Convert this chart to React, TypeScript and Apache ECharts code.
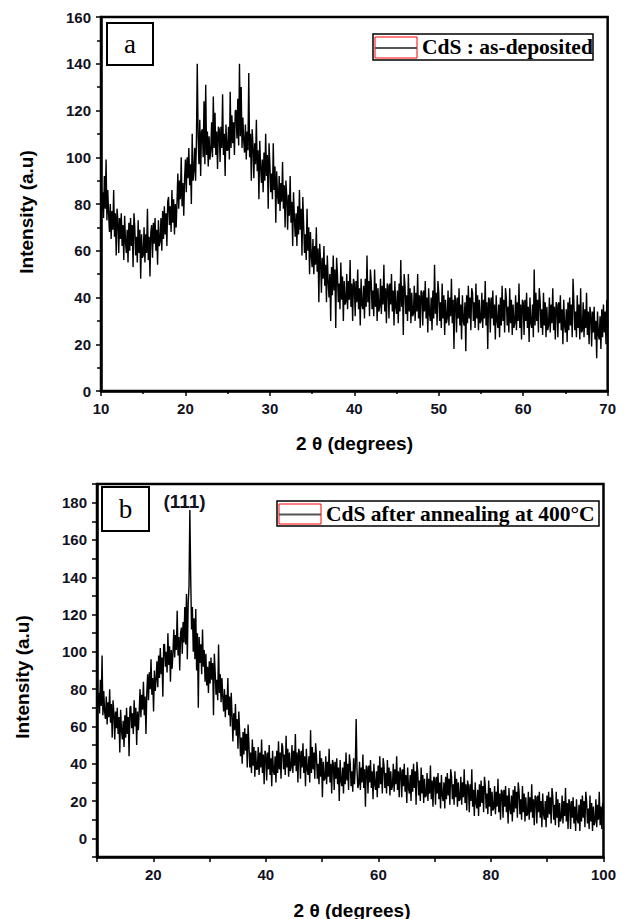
import React, { useEffect, useRef } from "react";
import * as echarts from "echarts";

// ---- Panel (a): CdS as-deposited, 2θ from 10° in steps of 0.1° (one row per degree) ----
const startA = 10;
const stepA = 0.1;
const intensityA = [
  89, 77, 85, 74, 92, 78, 99, 73, 86, 76,
  68, 80, 65, 77, 69, 86, 66, 76, 58, 78,
  73, 59, 74, 65, 76, 62, 71, 56, 75, 64,
  59, 69, 55, 72, 60, 74, 62, 71, 53, 76,
  70, 58, 66, 55, 73, 59, 69, 48, 67, 57,
  58, 70, 55, 67, 59, 78, 56, 66, 49, 68,
  71, 57, 72, 63, 74, 60, 69, 54, 73, 62,
  64, 74, 60, 77, 65, 79, 67, 76, 62, 81,
  83, 71, 79, 68, 86, 72, 82, 67, 80, 70,
  81, 93, 78, 90, 82, 100, 79, 89, 75, 91,
  99, 85, 100, 91, 104, 88, 97, 80, 110, 90,
  94, 104, 90, 107, 140, 109, 97, 116, 92, 111,
  112, 100, 124, 97, 131, 101, 111, 96, 109, 99,
  103, 115, 100, 126, 104, 119, 101, 111, 95, 113,
  112, 98, 113, 104, 127, 101, 110, 92, 114, 103,
  103, 113, 99, 128, 104, 118, 106, 115, 101, 120,
  120, 108, 125, 105, 140, 109, 130, 104, 117, 107,
  102, 114, 99, 111, 103, 136, 100, 110, 90, 112,
  105, 91, 106, 97, 116, 94, 103, 82, 107, 96,
  89, 99, 85, 102, 90, 110, 92, 101, 78, 106,
  97, 85, 93, 82, 106, 86, 96, 72, 94, 84,
  80, 92, 77, 89, 81, 98, 78, 88, 70, 90,
  83, 69, 84, 75, 92, 72, 81, 62, 85, 74,
  66, 76, 62, 79, 67, 86, 69, 78, 58, 83,
  71, 59, 67, 56, 78, 60, 70, 50, 68, 58,
  53, 65, 50, 62, 54, 70, 51, 61, 38, 63,
  56, 42, 57, 48, 62, 45, 54, 38, 58, 47,
  40, 50, 30, 53, 41, 58, 43, 52, 27, 57,
  50, 38, 46, 35, 55, 39, 49, 30, 47, 37,
  38, 50, 35, 47, 39, 56, 36, 46, 30, 48,
  46, 32, 47, 38, 52, 35, 44, 28, 48, 37,
  35, 45, 31, 48, 36, 58, 38, 47, 32, 52,
  47, 35, 43, 32, 52, 36, 46, 30, 44, 34,
  36, 48, 33, 45, 37, 54, 34, 44, 29, 46,
  45, 31, 46, 37, 50, 34, 43, 28, 47, 36,
  33, 43, 29, 46, 34, 56, 36, 45, 24, 50,
  45, 33, 41, 30, 50, 34, 44, 29, 42, 32,
  33, 45, 30, 42, 34, 50, 31, 41, 27, 43,
  42, 28, 43, 34, 47, 31, 40, 25, 44, 33,
  30, 40, 26, 43, 31, 54, 33, 42, 28, 47,
  42, 30, 38, 27, 46, 31, 41, 24, 39, 29,
  31, 43, 28, 40, 32, 48, 29, 39, 18, 41,
  39, 25, 40, 31, 44, 28, 37, 22, 41, 30,
  28, 38, 17, 41, 29, 45, 31, 40, 26, 44,
  42, 30, 38, 27, 46, 31, 41, 26, 39, 29,
  30, 42, 27, 39, 31, 47, 28, 38, 18, 40,
  39, 25, 40, 31, 43, 28, 37, 22, 41, 30,
  27, 37, 23, 40, 28, 45, 30, 39, 25, 44,
  40, 28, 36, 25, 44, 29, 39, 24, 37, 27,
  29, 41, 26, 38, 30, 46, 27, 37, 22, 39,
  38, 24, 39, 30, 42, 27, 36, 21, 40, 29,
  27, 37, 23, 52, 28, 42, 30, 39, 25, 44,
  39, 27, 35, 24, 42, 28, 38, 23, 36, 26,
  28, 40, 25, 37, 29, 44, 26, 36, 22, 38,
  37, 23, 38, 29, 41, 26, 35, 20, 39, 28,
  25, 35, 21, 38, 26, 40, 28, 37, 23, 48,
  38, 26, 34, 23, 41, 27, 37, 22, 44, 25,
  26, 38, 23, 35, 27, 42, 24, 34, 20, 36,
  33, 19, 34, 25, 36, 22, 30, 14, 34, 24,
  22, 32, 18, 35, 23, 37, 25, 34, 20, 39,
  27,
];

// ---- Panel (b): CdS after annealing, 2θ from 10° in steps of 0.15° (one row per 1.5°) ----
const startB = 10;
const stepB = 0.15;
const intensityB = [
  82, 70, 78, 67, 85, 71, 98, 66, 79, 68,
  64, 76, 61, 73, 65, 80, 62, 72, 54, 74,
  67, 53, 68, 59, 70, 56, 65, 46, 69, 58,
  53, 63, 49, 66, 54, 70, 56, 65, 44, 70,
  71, 59, 67, 56, 74, 60, 70, 50, 68, 58,
  68, 80, 65, 77, 69, 84, 66, 76, 56, 78,
  88, 74, 89, 80, 96, 77, 86, 68, 90, 79,
  85, 95, 81, 98, 86, 102, 88, 97, 76, 104,
  104, 92, 100, 89, 110, 93, 103, 84, 101, 91,
  100, 112, 97, 109, 101, 122, 98, 108, 90, 110,
  113, 99, 116, 105, 124, 104, 131, 96, 126, 135,
  176, 140, 112, 124, 100, 118, 96, 123, 90, 110,
  70, 108, 94, 104, 88, 112, 92, 101, 84, 99,
  82, 92, 78, 95, 83, 97, 85, 94, 66, 99,
  89, 77, 85, 74, 104, 78, 88, 73, 86, 76,
  68, 80, 65, 77, 69, 86, 66, 76, 60, 78,
  66, 52, 67, 58, 72, 55, 64, 48, 68, 57,
  44, 54, 40, 57, 45, 59, 47, 56, 38, 61,
  50, 38, 46, 35, 53, 39, 49, 33, 47, 37,
  37, 49, 34, 46, 38, 53, 35, 45, 29, 47,
  45, 31, 46, 37, 50, 34, 43, 28, 47, 36,
  34, 44, 30, 47, 35, 52, 37, 46, 32, 51,
  49, 37, 45, 34, 55, 38, 48, 33, 46, 36,
  38, 50, 35, 47, 39, 56, 36, 46, 30, 48,
  46, 32, 47, 38, 51, 35, 44, 28, 48, 37,
  34, 44, 30, 58, 35, 49, 37, 46, 32, 51,
  44, 32, 40, 29, 47, 33, 43, 22, 41, 31,
  32, 44, 29, 41, 33, 48, 30, 40, 24, 42,
  40, 26, 41, 32, 43, 29, 38, 20, 42, 31,
  28, 38, 24, 41, 29, 46, 31, 40, 26, 45,
  40, 28, 36, 25, 43, 29, 39, 64, 37, 27,
  29, 41, 26, 38, 30, 45, 27, 37, 17, 39,
  38, 24, 39, 30, 42, 27, 36, 21, 40, 29,
  26, 36, 22, 39, 27, 44, 29, 38, 24, 43,
  39, 27, 35, 24, 42, 28, 38, 23, 36, 26,
  28, 40, 25, 37, 29, 44, 26, 36, 22, 38,
  36, 22, 37, 28, 40, 25, 34, 19, 38, 27,
  24, 34, 20, 37, 25, 40, 27, 36, 18, 41,
  35, 23, 31, 20, 38, 24, 34, 19, 32, 22,
  23, 35, 20, 32, 24, 39, 21, 31, 17, 33,
  32, 18, 33, 24, 35, 21, 30, 16, 34, 23,
  20, 30, 16, 33, 21, 35, 23, 32, 18, 37,
  33, 21, 29, 18, 36, 22, 32, 17, 30, 20,
  21, 33, 18, 30, 22, 37, 19, 29, 15, 31,
  28, 14, 29, 20, 37, 17, 26, 12, 30, 19,
  16, 26, 12, 29, 17, 31, 19, 28, 14, 33,
  28, 16, 24, 13, 31, 17, 27, 12, 25, 15,
  16, 28, 13, 25, 17, 32, 14, 24, 10, 26,
  25, 11, 26, 17, 28, 14, 23, 8, 27, 16,
  13, 23, 9, 26, 14, 28, 16, 25, 11, 30,
  25, 13, 21, 10, 28, 14, 24, 9, 22, 12,
  13, 25, 10, 22, 14, 29, 11, 21, 7, 23,
  22, 8, 23, 14, 25, 11, 20, 6, 24, 13,
  10, 20, 6, 23, 11, 25, 13, 22, 8, 27,
  22, 10, 18, 7, 25, 11, 21, 6, 19, 9,
  11, 23, 8, 20, 12, 27, 9, 19, 5, 21,
  19, 5, 20, 11, 22, 8, 17, 4, 21, 10,
  8, 18, 4, 21, 9, 23, 11, 20, 6, 25,
  20, 8, 16, 5, 23, 9, 19, 4, 17, 7,
  9, 21, 6, 18, 10, 25, 7, 17, 5, 19,
  13,
];

const legendA = "CdS : as-deposited";
const legendB = "CdS after annealing at 400°C";
const panelA = "a";
const panelB = "b";
const peakLabel = "(111)";
const yTitle = "Intensity (a.u)";
const xTitle = "2 θ (degrees)";

const SANS = "'Liberation Sans', Arial, sans-serif";
const SERIF = "'Liberation Serif', 'Times New Roman', serif";

export default function App() {
  const ref = useRef<HTMLDivElement>(null);

  useEffect(() => {
    if (!ref.current) return;
    const chart = echarts.init(ref.current, undefined, { renderer: "svg" });

    const dataA = intensityA.map((v, i) => [+(startA + i * stepA).toFixed(2), v]);
    const dataB = intensityB.map((v, i) => [+(startB + i * stepB).toFixed(2), v]);

    const labelStyle = {
      color: "#111122",
      fontFamily: SANS,
      fontWeight: "bold" as const,
      fontSize: 15,
    };
    const axisLine = { show: true, onZero: false, lineStyle: { color: "#000", width: 2.5 } };

    const titleText = (x: number, y: number, text: string, rot = 0) => ({
      type: "text",
      x,
      y,
      rotation: rot,
      style: {
        text,
        fill: "#000",
        font: `bold 19px ${SANS}`,
        align: "center",
        verticalAlign: "middle",
        textAlign: "center",
        textVerticalAlign: "middle",
      },
    });

    const legend = (
      bx: number, by: number, bw: number, bh: number,
      text: string
    ) => [
      {
        type: "rect",
        shape: { x: bx, y: by, width: bw, height: bh },
        style: { fill: "#fff", stroke: "#000", lineWidth: 1.5 },
      },
      {
        type: "rect",
        shape: { x: bx + 2, y: by + 3, width: 42, height: bh - 5 },
        style: { fill: "none", stroke: "#ff0000", lineWidth: 1 },
      },
      {
        type: "line",
        shape: { x1: bx + 2, y1: by + bh / 2 + 1, x2: bx + 44, y2: by + bh / 2 + 1 },
        style: { stroke: "#555", lineWidth: 2 },
      },
      {
        type: "text",
        x: bx + 49,
        y: by + bh / 2,
        style: {
          text,
          fill: "#000",
          font: `bold 21.5px ${SERIF}`,
          align: "left",
          verticalAlign: "middle",
          textAlign: "left",
          textVerticalAlign: "middle",
        },
      },
    ];

    const panelBox = (bx: number, by: number, bw: number, bh: number, text: string) => [
      {
        type: "rect",
        shape: { x: bx, y: by, width: bw, height: bh },
        style: { fill: "#fff", stroke: "#000", lineWidth: 2 },
      },
      {
        type: "text",
        x: bx + bw / 2,
        y: by + bh / 2,
        style: {
          text,
          fill: "#000",
          font: `27px ${SERIF}`,
          align: "center",
          verticalAlign: "middle",
          textAlign: "center",
          textVerticalAlign: "middle",
        },
      },
    ];

    chart.setOption({
      animation: false,
      backgroundColor: "#fff",
      grid: [
        {
          left: 93, top: 9, width: 509, height: 374,
          show: true, borderColor: "#000", borderWidth: 2.5, containLabel: false,
        },
        {
          left: 89, top: 476, width: 509, height: 373,
          show: true, borderColor: "#000", borderWidth: 2.5, containLabel: false,
        },
      ],
      xAxis: [
        {
          type: "value", gridIndex: 0, min: 10, max: 70, interval: 10,
          axisLine,
          axisTick: { show: true, inside: false, length: 5, lineStyle: { color: "#000", width: 1.5 } },
          minorTick: { show: true, splitNumber: 2, length: 3, lineStyle: { color: "#000", width: 1.5 } },
          splitLine: { show: false },
          axisLabel: { ...labelStyle, margin: 10 },
        },
        {
          type: "value", gridIndex: 1, min: 10, max: 100, interval: 10,
          axisLine,
          axisTick: { show: true, inside: false, length: 5, lineStyle: { color: "#000", width: 1.5 } },
          splitLine: { show: false },
          axisLabel: {
            ...labelStyle,
            margin: 10,
            formatter: (v: number) => (v % 20 === 0 ? String(v) : ""),
          },
        },
      ],
      yAxis: [
        {
          type: "value", gridIndex: 0, min: 0, max: 160, interval: 20,
          axisLine,
          axisTick: { show: true, inside: false, length: 5, lineStyle: { color: "#000", width: 1.5 } },
          minorTick: { show: true, splitNumber: 2, length: 4, lineStyle: { color: "#000", width: 1.5 } },
          splitLine: { show: false },
          axisLabel: { ...labelStyle, margin: 10 },
        },
        {
          type: "value", gridIndex: 1, min: -10, max: 190, interval: 10,
          axisLine,
          axisTick: { show: true, inside: false, length: 5, lineStyle: { color: "#000", width: 1.5 } },
          splitLine: { show: false },
          axisLabel: {
            ...labelStyle,
            margin: 10,
            formatter: (v: number) => (v >= 0 && v <= 180 && v % 20 === 0 ? String(v) : ""),
          },
        },
      ],
      series: [
        {
          type: "line", xAxisIndex: 0, yAxisIndex: 0, data: dataA,
          showSymbol: false, symbol: "none", clip: true,
          lineStyle: { color: "#000", width: 1.4 },
        },
        {
          type: "line", xAxisIndex: 1, yAxisIndex: 1, data: dataB,
          showSymbol: false, symbol: "none", clip: true,
          lineStyle: { color: "#000", width: 1.4 },
        },
      ],
      graphic: [
        ...panelBox(99, 15, 46, 42, panelA),
        ...legend(365, 26, 220, 26, legendA),
        ...panelBox(94, 479, 47, 44, panelB),
        ...legend(269, 493, 322, 25, legendB),
        {
          type: "text",
          x: 176.5,
          y: 493.5,
          style: {
            text: peakLabel,
            fill: "#111122",
            font: `bold 19px ${SANS}`,
            align: "center",
            verticalAlign: "middle",
            textAlign: "center",
            textVerticalAlign: "middle",
          },
        },
        titleText(18.5, 204, yTitle, Math.PI / 2),
        titleText(346.5, 435, xTitle),
        titleText(14.5, 669, yTitle, Math.PI / 2),
        titleText(344, 902, xTitle),
      ],
    });

    return () => chart.dispose();
  }, []);

  return <div ref={ref} style={{ width: 611, height: 911 }} />;
}
